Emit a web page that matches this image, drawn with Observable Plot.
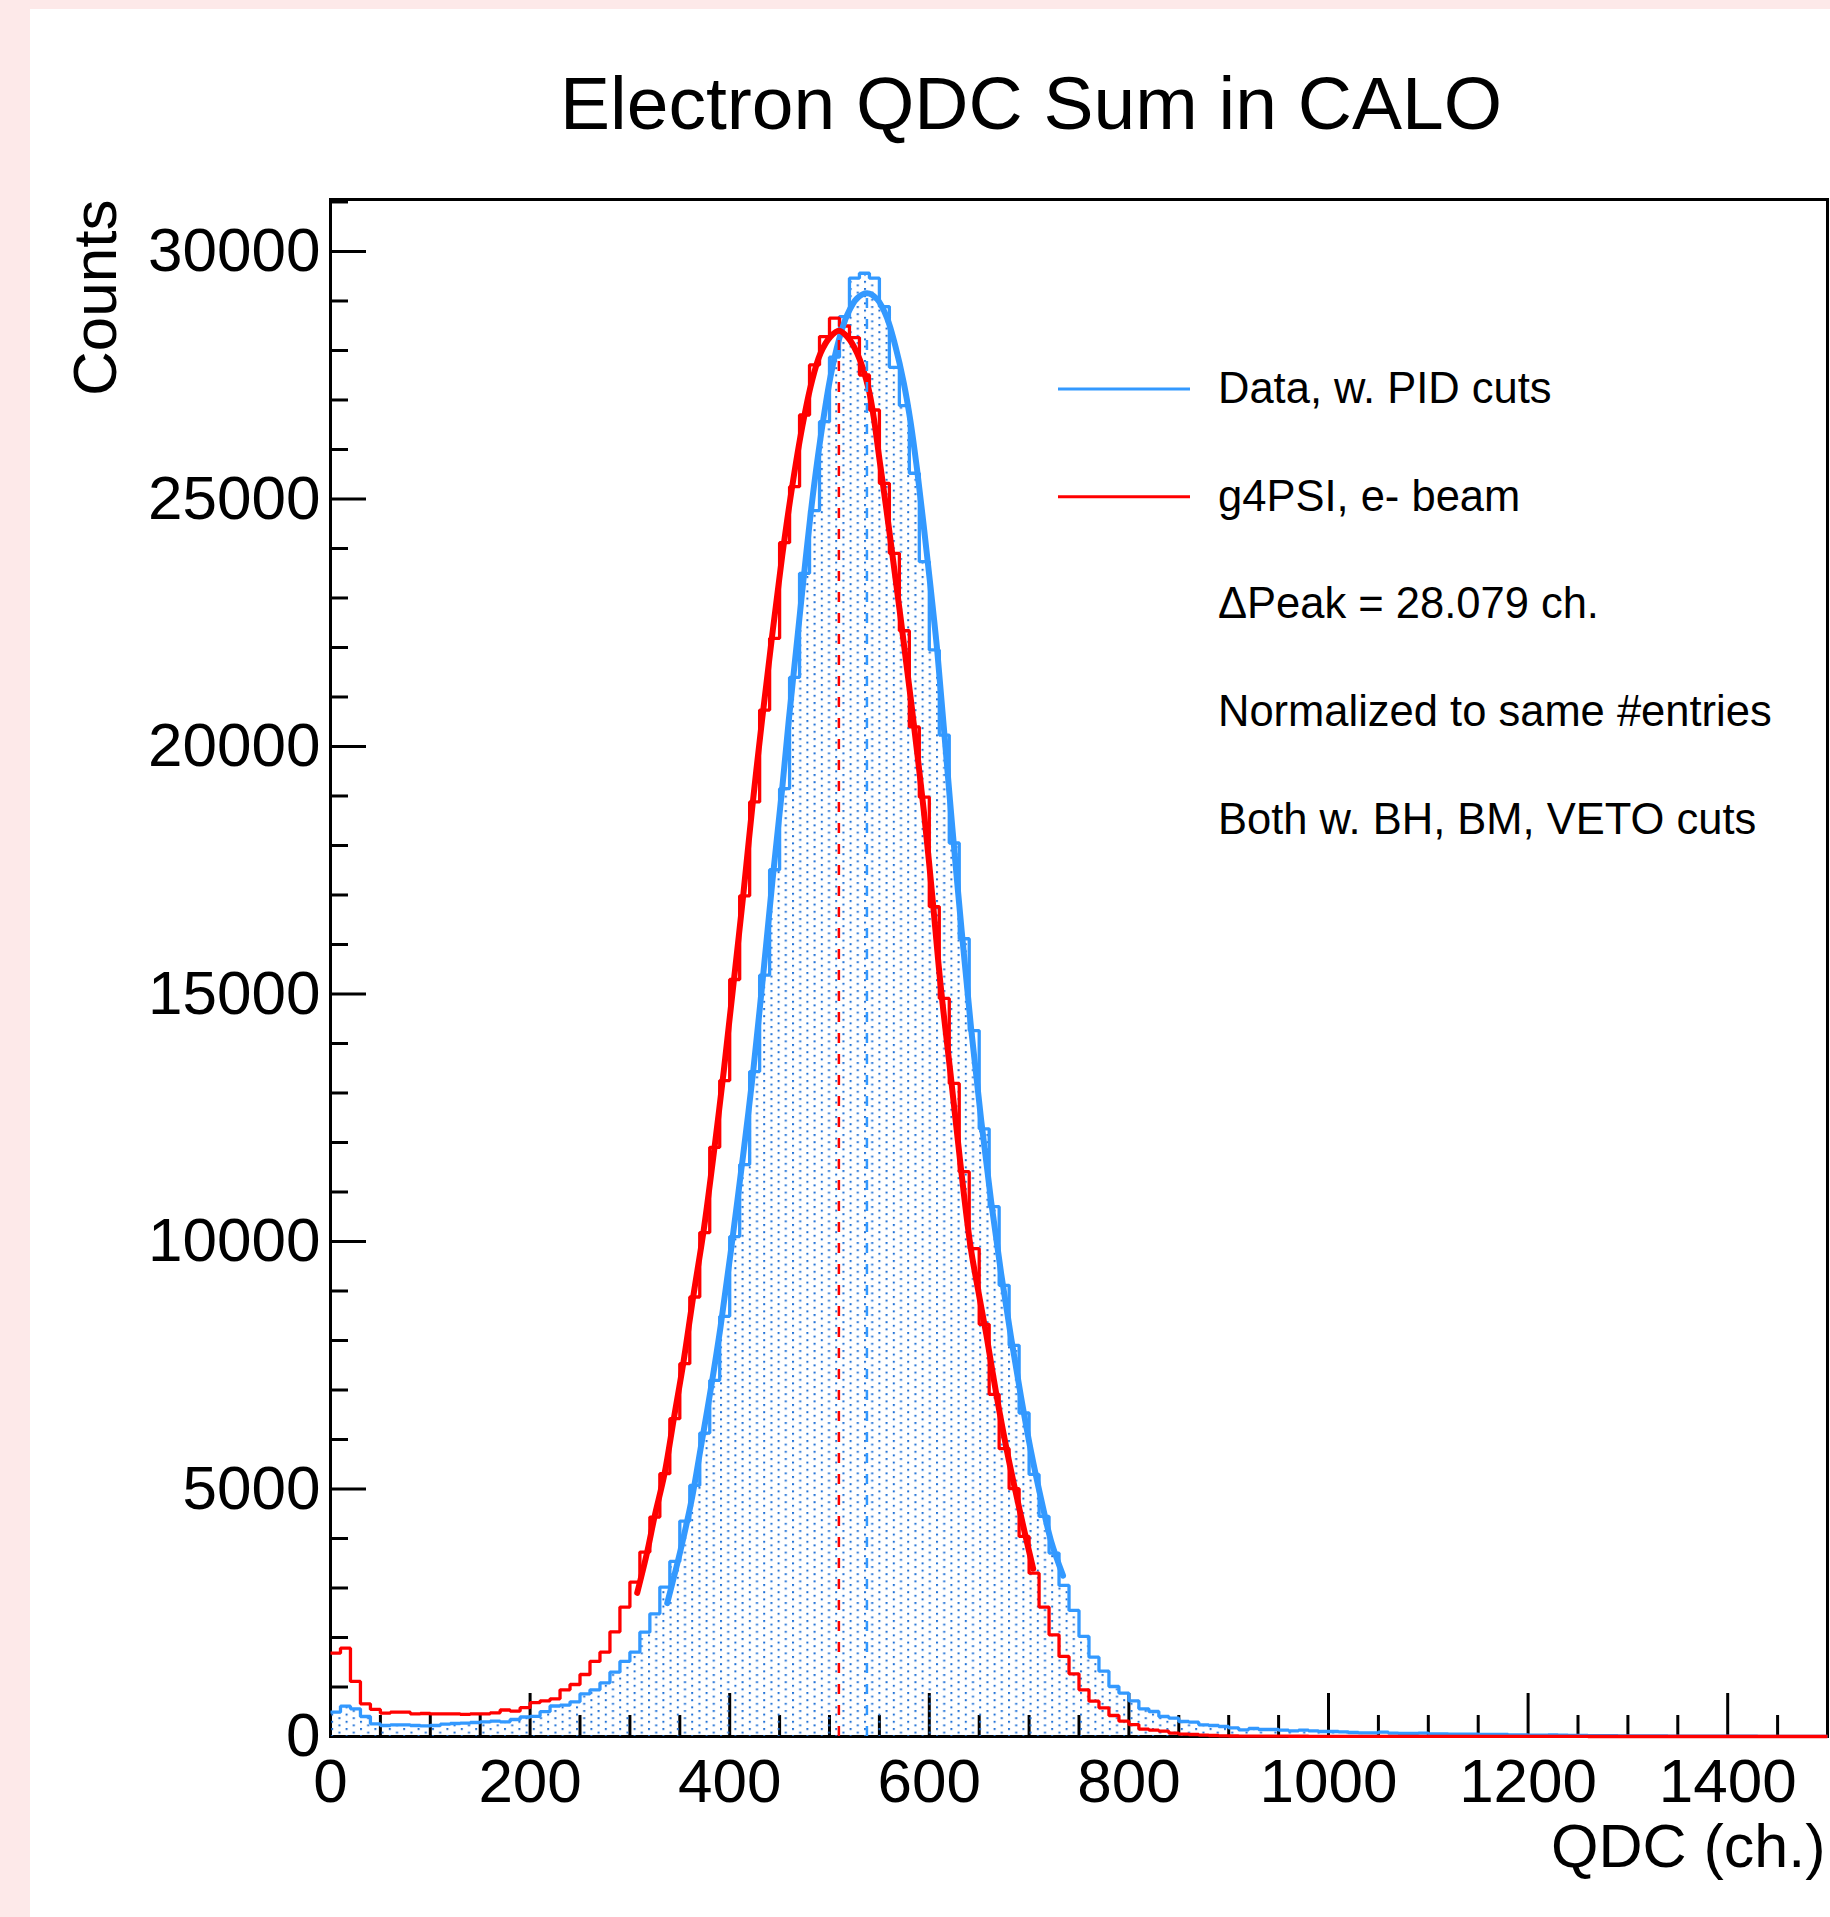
<!DOCTYPE html>
<html><head><meta charset="utf-8">
<script src="https://cdn.jsdelivr.net/npm/d3@7"></script>
<script src="https://cdn.jsdelivr.net/npm/@observablehq/plot@0.6"></script>
<style>
html,body{margin:0;padding:0;}
body{width:1830px;height:1917px;background:#fde9e9;position:relative;overflow:hidden;font-family:'Liberation Sans',Arial,sans-serif;}
#panel{position:absolute;left:30px;top:9px;width:1800px;height:1908px;background:#fff;}
#chart{position:absolute;left:0;top:0;}
#legend{position:absolute;left:0;top:0;}
</style></head><body>
<div id="panel"></div><div id="chart"></div>
<script>
// ---------- data ----------
const binWidth = 10;          // QDC channels per bin, bins from 0 to 1500
// Data, w. PID cuts (blue, filled)
const dataCounts = [
 492,613,559,404,256,222,236,236,222,216,
 222,249,263,269,283,296,310,297,343,394,
 408,502,616,633,700,862,943,1085,1300,1516,
 1704,2108,2479,3018,3537,4352,5073,6130,7195,8488,
 10100,11554,13432,15380,17510,19147,21396,23498,24764,26562,
 27864,28684,29460,29560,29460,28886,27660,26886,25520,23734,
 21950,20230,18050,16116,14260,12276,10703,9115,7902,6535,
 5295,4446,3705,3052,2546,2021,1603,1320,1010,876,
 720,559,505,404,370,303,290,236,222,202,
 175,135,162,141,141,128,115,128,115,101,
 101,94,81,74,74,88,67,61,61,67,
 54,54,47,47,47,40,40,40,34,34,
 27,27,34,27,20,20,15,15,15,12,
 12,10,10,10,8,8,8,6,6,6,
 5,5,5,4,4,4,3,3,3,3
];
// g4PSI, e- beam (red)
const simCounts = [
 1684,1785,1112,660,546,472,492,492,458,465,
 458,458,458,445,458,458,478,535,512,582,
 684,720,761,943,1051,1253,1516,1704,2115,2614,
 3119,3725,4433,5309,6421,7532,8879,10180,11902,13250,
 15293,16983,18880,20735,22184,24117,25249,26697,27708,28280,
 28652,28495,28260,27505,26798,25317,23902,22338,20396,18975,
 16766,14911,13193,11410,9857,8327,6912,5814,5006,4042,
 3300,2614,2055,1617,1267,943,714,580,424,310,
 240,150,128,108,70,47,40,27,20,13,
 10,9,8,7,6,6,5,5,4,4,
 4,3,3,3,3,2,2,2,2,2,
 2,2,1,1,1,1,1,1,1,1,
 1,1,1,1,1,1,0,0,0,0,
 0,0,0,0,0,0,0,0,0,0,
 0,0,0,0,0,0,0,0,0,0
];
// Gaussian fit curves
const blueFitX = [337.4,350.7,362.4,370.7,381.4,390.8,400.8,413.5,423.5,433.5,442.9,452.6,459.2,467.6,476,484.4,492.7,501,509.4,517.7,527.7,537.7,547.8,557.8,566.1,574.5,581.2,587.8,594.5,601.2,607.9,614.5,622.9,632.3,641.9,652,662,672,682,692,702,712,722,734];
const blueFitY = [2694,3759,4837,5800,7060,8273,9750,11750,13432,15380,17300,19150,20533,22150,23767,25249,26462,27472,28213,28718,29055,29156,29035,28651,28078,27337,26563,25586,24440,23228,21948,20400,18400,16300,14300,12450,10800,9350,8050,6850,5750,4800,3950,3250];
const redFitX = [307.3,317.3,324.6,334.7,344,353.4,363.4,374.1,384.8,394.1,403.5,413.5,422.5,432.5,442.6,452.6,462.6,472.6,482,491,501,509.4,517.7,527.7,539.4,551.1,561.1,571.1,581.8,594.5,602.9,611.2,621.2,631.3,641.3,650,657.3,667.3,678,686.4,696.4,704.1];
const redFitY = [2900,3725,4433,5309,6420,7532,8879,10250,11902,13450,15150,16983,18750,20550,22250,23850,25250,26450,27350,27944,28280,28400,28280,27944,27203,25653,24171,22622,20900,18700,17000,15200,13400,11550,9900,8900,8100,6900,5750,4950,4050,3390];
// fitted peak positions (dashed markers)
const peakX = [509.4, 537.5];
const peakY = [28400, 29156];
const peakSeries = ["sim", "data"];
// axes
const xMajor = [0,200,400,600,800,1000,1200,1400];
const xMinor = d3.range(50, 1501, 50).filter(v => v % 200 !== 0);
const yMajor = [0,5000,10000,15000,20000,25000,30000];
const yMinor = d3.range(1000, 31001, 1000).filter(v => v % 5000 !== 0);
const legendLabels = ["Data, w. PID cuts", "g4PSI, e- beam", "\u0394Peak = 28.079 ch.", "Normalized to same #entries", "Both w. BH, BM, VETO cuts"];
const legendKeys = ["data", "sim", null, null, null];

// ---------- styling ----------
const BLUE = "#3399ff", RED = "#ff0000", DOT = "#2272d6";
const colorOf = {data: BLUE, sim: RED};

function steps(counts) {
  const pts = [];
  counts.forEach((c, i) => { pts.push({x: i * binWidth, y: c}); pts.push({x: (i + 1) * binWidth, y: c}); });
  return pts;
}
const dataSteps = steps(dataCounts);
const simSteps = steps(simCounts);
const blueFit = blueFitX.map((x, i) => ({x, y: blueFitY[i]}));
const redFit = redFitX.map((x, i) => ({x, y: redFitY[i]}));
const peaks = peakX.map((x, i) => ({x, y: peakY[i], s: peakSeries[i]}));

const fmt = d => String(d);
const chart = Plot.plot({
  width: 1830, height: 1917,
  marginLeft: 330, marginTop: 199, marginRight: 3, marginBottom: 181,
  x: {domain: [0, 1500]},
  y: {domain: [0, 31050]},
  style: {background: "transparent", fontFamily: "'Liberation Sans', Arial, sans-serif", fontSize: "62px", color: "black", overflow: "visible"},
  marks: [
    Plot.frame({stroke: "black", strokeWidth: 3}),
    Plot.axisY({ticks: yMajor, tickSize: -36, tickPadding: 46, tickFormat: fmt, fontSize: 62, strokeWidth: 3, label: null}),
    Plot.axisY({ticks: yMinor, tickSize: -18, tickFormat: () => "", strokeWidth: 3, label: null}),
    Plot.axisX({ticks: xMajor, tickSize: -43, tickPadding: 64, tickFormat: fmt, fontSize: 62, strokeWidth: 3, label: null}),
    Plot.axisX({ticks: xMinor, tickSize: -21, tickFormat: () => "", strokeWidth: 3, label: null}),
    Plot.area(dataSteps, {x1: "x", y1: 0, y2: "y", fill: "url(#dots)"}),
    Plot.line(dataSteps, {x: "x", y: "y", stroke: BLUE, strokeWidth: 3.3, strokeLinejoin: "miter", strokeLinecap: "butt"}),
    Plot.line(simSteps, {x: "x", y: "y", stroke: RED, strokeWidth: 3.3, strokeLinejoin: "miter", strokeLinecap: "butt"}),
    Plot.line(blueFit, {x: "x", y: "y", stroke: BLUE, strokeWidth: 6, curve: "catmull-rom"}),
    Plot.line(redFit, {x: "x", y: "y", stroke: RED, strokeWidth: 6, curve: "catmull-rom"}),
    Plot.ruleX(peaks, {x: "x", y1: 0, y2: "y", stroke: d => colorOf[d.s], strokeWidth: 2.5, strokeDasharray: "10,11"}),
    Plot.text(["Electron QDC Sum in CALO"], {frameAnchor: "top", text: d => d, dx: -48, dy: -95, fontSize: 75, lineAnchor: "middle"}),
    Plot.text(["Counts"], {frameAnchor: "top-left", text: d => d, rotate: -90, textAnchor: "end", dx: -234, dy: 0, fontSize: 62, lineAnchor: "middle"}),
    Plot.text(["QDC (ch.)"], {frameAnchor: "bottom-right", text: d => d, textAnchor: "end", dx: -2, dy: 111, fontSize: 61, lineAnchor: "middle"})
  ]
});
const ns = "http://www.w3.org/2000/svg";
const defs = document.createElementNS(ns, "defs");
defs.innerHTML = `<pattern id="dots" width="14.4" height="7.2" patternUnits="userSpaceOnUse"><rect x="0" y="0" width="2" height="2" fill="${DOT}"/><rect x="7.2" y="3.6" width="2" height="2" fill="${DOT}"/></pattern>`;
chart.insertBefore(defs, chart.firstChild);
document.getElementById("chart").appendChild(chart);

// ---------- legend (overlay) ----------
const lg = d3.select("body").append("svg").attr("id", "legend").attr("width", 1830).attr("height", 1917);
legendLabels.forEach((t, i) => {
  const base = 403 + i * 107.7;
  if (legendKeys[i]) {
    lg.append("line").attr("x1", 1058).attr("x2", 1190).attr("y1", base - 14).attr("y2", base - 14)
      .attr("stroke", colorOf[legendKeys[i]]).attr("stroke-width", 3);
  }
  lg.append("text").attr("x", 1218).attr("y", base).attr("font-size", 43.5)
    .attr("font-family", "'Liberation Sans', Arial, sans-serif").attr("fill", "black").text(t);
});
</script>
</body></html>
